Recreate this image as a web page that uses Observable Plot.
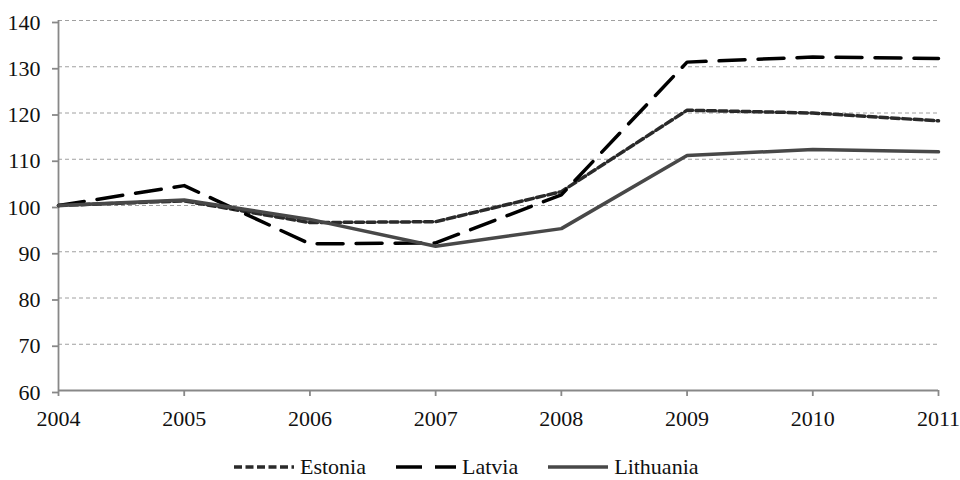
<!DOCTYPE html>
<html>
<head>
<meta charset="utf-8">
<script src="https://cdn.jsdelivr.net/npm/d3@7"></script>
<script src="https://cdn.jsdelivr.net/npm/@observablehq/plot@0.6"></script>
</head>
<body style="margin:0;padding:0;background:#fff;width:960px;height:480px;overflow:hidden;font-family:'Liberation Serif',serif">
<div id="chart" style="height:440px"></div>
<div id="legend" style="display:flex;justify-content:flex-start;align-items:center;height:40px;margin-top:7px;padding-left:233px;font-size:22px;color:#111;font-family:'Liberation Serif',serif"></div>
<script>
const years = [2004, 2005, 2006, 2007, 2008, 2009, 2010, 2011];
const estonia   = [100, 101.0, 96.3, 96.5, 103.0, 120.6, 120.0, 118.3];
const latvia    = [100, 104.3, 91.7, 91.9, 102.3, 131.0, 132.1, 131.8];
const lithuania = [100, 101.2, 97.0, 91.2, 95.0, 110.8, 112.1, 111.6];
const seriesNames = ["Estonia", "Latvia", "Lithuania"];
const yTicks = [60, 70, 80, 90, 100, 110, 120, 130, 140];

const styles = {
  Estonia:   {stroke: "#2a2a2a", dash: "8,3.5", width: 3.5},
  Latvia:    {stroke: "#000000", dash: "26,13", width: 3.5},
  Lithuania: {stroke: "#484848", dash: null, width: 3.5}
};

const seriesValues = {Estonia: estonia, Latvia: latvia, Lithuania: lithuania};
const table = seriesNames.flatMap(name => years.map((year, i) => ({name, year, value: seriesValues[name][i]})));

const lineMarks = seriesNames.map(name => Plot.line(table.filter(d => d.name === name), {
  x: "year", y: "value",
  stroke: styles[name].stroke,
  strokeWidth: styles[name].width,
  strokeDasharray: styles[name].dash,
  strokeLinejoin: "round"
}));

const chart = Plot.plot({
  width: 960,
  height: 440,
  marginLeft: 58,
  marginRight: 22,
  marginTop: 20,
  marginBottom: 50,
  style: {fontFamily: "Liberation Serif", fontSize: "22px", color: "#111", background: "#fff", overflow: "visible"},
  x: {domain: [2004, 2011], type: "linear"},
  y: {domain: [60, 140]},
  marks: [
    Plot.gridY(yTicks.filter(t => t > 60), {stroke: "#a0a0a0", strokeOpacity: 1, strokeDasharray: "4,3", strokeWidth: 1}),
    Plot.ruleY([60], {stroke: "#888", strokeWidth: 1.8}),
    Plot.ruleX([2004], {stroke: "#888", strokeWidth: 1.8}),
    Plot.axisY(yTicks, {tickSize: 6, tickPadding: 12, stroke: "#888", strokeWidth: 1.8, label: null, fill: "#111", dy: 2}),
    Plot.axisX(years, {tickSize: 6, tickPadding: 14, stroke: "#888", strokeWidth: 1.8, label: null, tickFormat: d => String(d), fill: "#111"}),
    ...lineMarks
  ]
});
d3.select(chart).selectAll("text").each(function() {
  this.style.fontFamily = "Liberation Serif";
  this.style.fontSize = "22px";
});
document.getElementById("chart").appendChild(chart);

const legend = document.getElementById("legend");
seriesNames.forEach((name, i) => {
  const s = styles[name];
  const item = document.createElement("div");
  item.style.cssText = `display:flex;align-items:center;gap:5px;margin-right:${i < 2 ? 29 : 0}px;font-family:'Liberation Serif',serif;font-size:22px`;
  item.innerHTML = `<svg width="62" height="10"><line x1="1" y1="5" x2="61" y2="5" stroke="${s.stroke}" stroke-width="${s.width}" ${s.dash ? `stroke-dasharray="${s.dash}"` : ""}/></svg><span>${name}</span>`;
  legend.appendChild(item);
});
</script>
</body>
</html>
